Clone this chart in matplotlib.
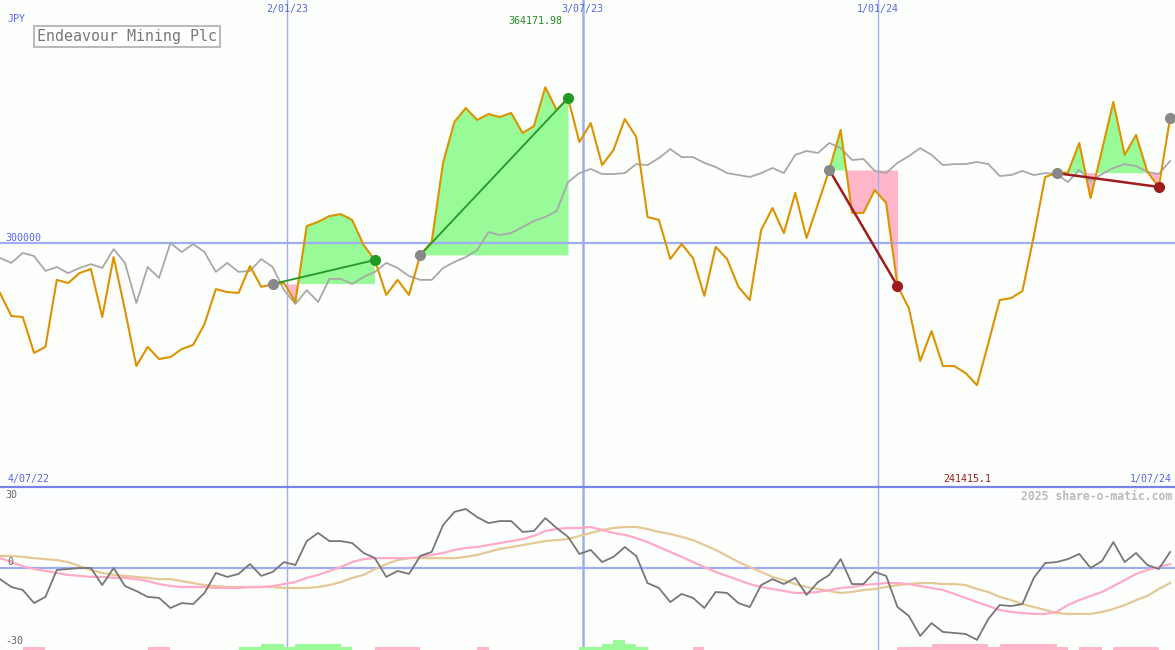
import matplotlib
matplotlib.use("Agg")
import matplotlib.pyplot as plt
import matplotlib.transforms as mtransforms
import numpy as np
import pandas as pd

plt.rcParams['font.family'] = ['DejaVu Sans Mono']

# weekly closes (JPY)
dates = pd.date_range('2022-07-09', periods=104, freq='7D')
price = [279400, 269900, 269500, 254700, 257200, 284800, 283500, 287600, 289300, 269500,
         294200, 272400, 249300, 257200, 252200, 253000, 256300, 258000, 266600, 281000,
         279800, 279400, 290500, 281900, 283100, 283500, 275700, 307000, 308700, 311100,
         311900, 309500, 299200, 293000, 278600, 284800, 278600, 295100, 300500, 333000,
         349900, 355600, 350700, 353100, 351900, 353600, 345300, 348200, 364171.98, 354800,
         359700, 341600, 349400, 332100, 338300, 351100, 343700, 310700, 309500, 293400,
         299600, 293800, 278200, 298400, 293400, 281900, 276500, 305400, 314400, 304100,
         320600, 302100, 316100, 330100, 346600, 312400, 312400, 321800, 316500, 282300,
         273200, 251400, 263700, 249300, 249300, 246400, 241415.1, 258800, 276500, 277300,
         280200, 302900, 327200, 328800, 329000, 341200, 318500, 338300, 358100, 336300,
         344500, 329300, 323100, 351500]
# comparison line (grey)
compare = [293800, 291800, 295900, 294600, 288500, 290100, 287600, 289700, 291300, 289700,
           297500, 291800, 275300, 290100, 285600, 300000, 296300, 299600, 296300, 288100,
           291800, 288100, 288500, 293400, 290100, 280600, 274900, 280600, 275700, 285200,
           285200, 283100, 286000, 288100, 291800, 289700, 286400, 284800, 284800, 289700,
           292200, 294200, 297100, 304500, 303300, 304100, 306600, 309100, 310700, 313200,
           325100, 328800, 330500, 328400, 328400, 328800, 332500, 332100, 335000, 338700,
           335400, 335400, 333000, 331300, 328800, 328000, 327200, 328800, 330900, 328800,
           336300, 337900, 337100, 341200, 339100, 334200, 334600, 329700, 328800, 333000,
           335800, 339100, 336300, 332100, 332500, 332500, 333400, 332500, 327600, 328000,
           329700, 328000, 328800, 328400, 325100, 330100, 325500, 328400, 330900, 332500,
           331700, 329300, 328400, 333800]

# lower panel oscillators
momentum = [-4.5, -7.7, -8.9, -14.2, -11.7, -0.8, -0.4, 0, 0, -6.9,
            0, -7.3, -9.3, -11.7, -12.1, -16.2, -14.2, -14.6, -10.1, -2.0,
            -3.6, -2.4, 1.6, -3.2, -1.6, 2.4, 1.2, 10.9, 14.2, 10.9,
            10.9, 10.1, 6.1, 4.0, -3.6, -1.2, -2.4, 4.9, 6.5, 17.4,
            22.7, 23.9, 20.6, 18.2, 19.0, 19.0, 14.6, 15.0, 20.2, 16.2,
            12.6, 5.7, 7.3, 2.4, 4.5, 8.5, 4.9, -6.1, -8.1, -13.8,
            -10.5, -12.1, -16.2, -9.7, -10.1, -14.2, -15.8, -6.9, -4.5, -6.5,
            -4.0, -10.9, -5.7, -2.8, 3.6, -6.5, -6.5, -1.6, -3.2, -15.8,
            -19.4, -27.5, -22.3, -25.9, -26.3, -26.7, -29.1, -20.6, -15.0, -15.4,
            -14.6, -4.0, 2.0, 2.4, 3.6, 5.7, 0, 2.8, 10.5, 2.4,
            6.1, 1.2, -0.4, 6.5]
fast = [4.0, 2.4, 0.8, -0.4, -1.2, -2.0, -2.8, -3.2, -3.6, -3.6,
        -4.0, -4.0, -4.5, -5.3, -6.5, -7.3, -7.7, -7.7, -7.7, -8.1,
        -8.1, -8.1, -7.7, -7.7, -7.3, -6.5, -5.7, -4.0, -2.8, -1.2,
        0.4, 2.4, 3.6, 4.0, 4.0, 4.0, 4.0, 4.5, 5.3, 6.1,
        7.3, 8.1, 8.5, 9.3, 10.1, 10.9, 11.7, 13.0, 15.0, 15.8,
        16.2, 16.2, 16.6, 15.4, 14.2, 13.4, 12.1, 10.5, 8.5, 6.5,
        4.5, 2.4, 0.4, -1.6, -3.2, -4.9, -6.5, -7.7, -8.5, -9.3,
        -10.1, -10.1, -9.7, -8.9, -8.1, -7.7, -6.9, -6.5, -6.1, -6.1,
        -6.5, -7.3, -8.1, -8.9, -10.5, -12.1, -13.8, -15.4, -17.0, -17.8,
        -18.2, -18.6, -18.6, -17.8, -15.0, -13.0, -11.3, -9.7, -7.3, -4.9,
        -2.4, -0.8, 0.4, 1.6]
slow = [4.9, 4.9, 4.5, 4.0, 3.6, 3.2, 2.4, 0.8, -0.8, -2.0,
        -2.8, -3.2, -3.6, -4.0, -4.5, -4.5, -5.3, -6.1, -6.9, -7.3,
        -7.7, -7.7, -7.7, -7.7, -7.7, -8.1, -8.1, -8.1, -7.7, -6.9,
        -5.7, -4.0, -2.8, -0.4, 1.6, 3.2, 4.0, 4.0, 4.0, 4.0,
        4.0, 4.5, 5.3, 6.5, 7.7, 8.5, 9.3, 10.1, 10.9, 11.3,
        11.7, 13.0, 14.2, 15.4, 16.2, 16.6, 16.6, 15.8, 14.6, 13.8,
        12.6, 11.3, 9.3, 7.3, 4.9, 2.4, 0.4, -1.6, -3.6, -4.9,
        -6.5, -7.7, -8.5, -9.3, -10.1, -9.7, -8.9, -8.5, -7.7, -6.9,
        -6.5, -6.1, -6.1, -6.5, -6.5, -6.9, -8.5, -9.7, -11.7, -13.0,
        -14.6, -15.8, -17.0, -18.2, -18.6, -18.6, -18.6, -17.8, -16.6, -15.0,
        -13.0, -11.3, -8.5, -6.1]
# signal strip at the bottom: + green, - pink
signal = [0, 0, -1, -1, 0, 0, 0, 0, 0, 0,
          0, 0, 0, -1, -1, 0, 0, 0, 0, 0,
          0, 1, 1, 2, 2, 1, 2, 2, 2, 2,
          1, 0, 0, -1, -1, -1, -1, 0, 0, 0,
          0, 0, -1, 0, 0, 0, 0, 0, 0, 0,
          0, 1, 1, 2, 3, 2, 1, 0, 0, 0,
          0, -1, 0, 0, 0, 0, 0, 0, 0, 0,
          0, 0, 0, 0, 0, 0, 0, 0, 0, -1,
          -1, -1, -2, -2, -2, -2, -2, -1, -2, -2,
          -2, -2, -2, -1, 0, -1, -1, 0, -1, -1,
          -1, -1, 0, 0]

buys = [24, 37, 73, 93]
sells = [33, 50, 79, 102]
open_buy = 103

vlines = ['2023-01-02', '2023-07-03', '2024-01-01']
vlabels = ['2/01/23', '3/07/23', '1/01/24']

bg = '#fdfffd'
blue_txt = '#5566ee'
grid_c = '#a0adf5'
fill_up = '#98fb98'
fill_dn = '#ffb6c8'

fig = plt.figure(figsize=(11.75, 6.5), dpi=100, facecolor=bg)
split = 163 / 650
ax = fig.add_axes([0, split, 1, 1 - split], facecolor=bg)
ax2 = fig.add_axes([0, 0, 1, split], facecolor=bg)

xmin = dates[0]
xmax = dates[0] + pd.Timedelta(days=724)
for a in (ax, ax2):
    a.set_xlim(xmin, xmax)
    a.set_xticks([])
    a.set_yticks([])
    for sp in a.spines.values():
        sp.set_visible(False)
ax.set_ylim(199470, 400120)
ax2.set_ylim(-33.2, 32.8)
ax2.spines['top'].set_visible(True)
ax2.spines['top'].set_color('#7785ea')
ax2.spines['top'].set_linewidth(1.6)

# grid
for i, d in enumerate(vlines):
    lw = 1.8 if i == 1 else 1.0
    for a in (ax, ax2):
        a.axvline(pd.Timestamp(d), color=grid_c, lw=lw, zorder=2)
ax.axhline(300000, color=grid_c, lw=1.6, zorder=2)
ax2.axhline(0, color=grid_c, lw=1.6, zorder=2)

# trades
price = np.array(price)
for b, s in zip(buys, sells):
    xs = dates[b:s + 1]
    ys = price[b:s + 1]
    base = price[b]
    ax.fill_between(xs, ys, base, where=ys >= base, interpolate=True, color=fill_up, lw=0, zorder=1)
    ax.fill_between(xs, ys, base, where=ys < base, interpolate=True, color=fill_dn, lw=0, zorder=1)

ax.plot(dates, compare, color='#a8a8a8', lw=1.3, zorder=3)
ax.plot(dates, price, color='#dd9200', lw=1.5, zorder=4)

for b, s in zip(buys, sells):
    c = '#229922' if price[s] >= price[b] else '#a01c1c'
    ax.plot([dates[b], dates[s]], [price[b], price[s]], color=c, lw=1.3 if c == '#229922' else 1.8, zorder=5)
    ax.plot(dates[b], price[b], 'o', color='#888888', ms=7, zorder=6)
    ax.plot(dates[s], price[s], 'o', color=c, ms=7, zorder=6)
ax.plot(dates[open_buy], price[open_buy], 'o', color='#888888', ms=7, zorder=6)

# labels on main panel
top = mtransforms.blended_transform_factory(ax.transData, ax.transAxes)
for d, lab in zip(vlines, vlabels):
    ax.text(pd.Timestamp(d), 0.982, lab, transform=top, ha='center', va='center',
            fontsize=7.2, color=blue_txt)
imax = int(np.argmax(price))
imin = int(np.argmin(price))
ax.text(dates[imax] - pd.Timedelta(days=6), 0.957, str(price[imax]), transform=top,
        ha='center', va='center', fontsize=7.2, color='#228822')
ax.text(dates[imin] - pd.Timedelta(days=6), 0.016, str(price[imin]), transform=top,
        ha='center', va='center', fontsize=7.2, color='#a01c1c')

fig.text(8 / 1175, 1 - 19 / 650, 'JPY', ha='left', va='center', fontsize=7.2, color=blue_txt)
fig.text(5 / 1175, 1 - 238 / 650, '300000', ha='left', va='center', fontsize=7.2, color=blue_txt)
fig.text(8 / 1175, 1 - 479 / 650, '4/07/22', ha='left', va='center', fontsize=7.2, color=blue_txt)
fig.text(1172 / 1175, 1 - 479 / 650, '1/07/24', ha='right', va='center', fontsize=7.2, color=blue_txt)
fig.text(37 / 1175, 1 - 36.5 / 650, 'Endeavour Mining Plc', ha='left', va='center', fontsize=10.8,
         color='#777777',
         bbox=dict(boxstyle='square,pad=0.2', fc='white', ec='#bbbbbb', lw=1.5))

# lower panel
ax2.plot(dates, slow, color='#e4c896', lw=1.6, zorder=3)
ax2.plot(dates, fast, color='#ffaac6', lw=1.6, zorder=3)
ax2.plot(dates, momentum, color='#777777', lw=1.3, zorder=4)

sig = np.array(signal)
heights = np.abs(sig) * 1.3
colors = [fill_up if v > 0 else fill_dn for v in sig]
ax2.bar(dates, heights, width=7, align='edge', bottom=-33.2, color=colors, lw=0, zorder=2)

fig.text(5 / 1175, 1 - 495 / 650, '30', ha='left', va='center', fontsize=7.2, color='#666666')
fig.text(7 / 1175, 1 - 562 / 650, '0', ha='left', va='center', fontsize=7.2, color='#666666')
fig.text(5 / 1175, 1 - 641 / 650, '-30', ha='left', va='center', fontsize=7.2, color='#666666')
fig.text(1172 / 1175, 1 - 496 / 650, '2025 share-o-matic.com', ha='right', va='center',
         fontsize=8.3, color='#bbbbbb', fontweight='bold')

fig.savefig('out.png', dpi=100, facecolor=bg)
